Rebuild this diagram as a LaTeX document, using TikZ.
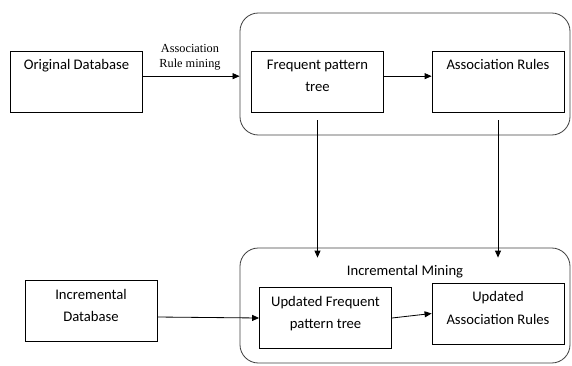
\documentclass[tikz,border=0pt]{standalone}
\usepackage{fontspec}
\setmainfont{Carlito}
\newfontfamily\labelfont{Liberation Serif}
\usepackage{tikz}
\usetikzlibrary{arrows.meta}
\usetikzlibrary{calc}
\tikzstyle{blk} = [draw=black, fill=white, line width=0.7pt,
rectangle, inner sep=0pt]
\tikzstyle{group} = [draw=black!75, line width=0.7pt, rectangle,
rounded corners=0.55cm, minimum width=9.9cm]
\tikzstyle{arr} = [draw=black, line width=0.7pt, -{Triangle[length=2.1mm,width=1.8mm]}]
\newcommand{\blktext}[1]{%
\begin{minipage}[t][1.83cm][t]{3.96cm}
\centering\vspace*{2.6mm}\fontsize{12.5}{19}\selectfont #1
\end{minipage}}

\begin{document}
\begin{tikzpicture}[x=0.03cm, y=-0.03cm]
        \useasboundingbox (0,0) rectangle (572,365);
        % the two rounded groups
        \node [group, minimum height=3.66cm] (upper) at (405,74) {};
        \node [group, minimum height=3.45cm] (lower) at (405,305.5) {};
        \node [anchor=base, font=\fontsize{12.5}{15}\selectfont] (inctitle) at (405,275) {Incremental Mining};
        % blocks
        \node [blk] (origdb) at (76.5,81.5) {\blktext{Original Database}};
        \node [blk] (fptree) at (317.5,81.5) {\blktext{Frequent pattern\\tree}};
        \node [blk] (assoc) at (498,81.5) {\blktext{Association Rules}};
        \node [blk] (incdb) at (91,311) {\blktext{Incremental\\Database}};
        \node [blk] (updfp) at (325.5,318) {\blktext{Updated Frequent\\pattern tree}};
        \node [blk] (updassoc) at (498,313.5) {\blktext{Updated\\Association Rules}};
        \node [anchor=south, inner sep=0pt, align=center,
            font=\labelfont\fontsize{10.5}{12.8}\selectfont] (minelabel) at (190,70) {Association\\Rule mining};
        % connectors
        \draw [arr] ([yshift=0.16cm]origdb.east) -- ([yshift=0.16cm]origdb.east -| upper.west);
        \draw [arr] ([yshift=0.16cm]fptree.east) -- ([yshift=0.16cm]assoc.west);
        \draw [arr] ([yshift=-2.4mm]fptree.south) -- ($(fptree.south |- lower.north)+(0,-3mm)$);
        \draw [arr] ([yshift=-2.4mm]assoc.south) -- ($(assoc.south |- lower.north)+(0,-3mm)$);
        \draw [arr] ([yshift=-0.18cm]incdb.east) -- (updfp.west);
        \draw [arr] (updfp.east) -- (updassoc.west);
    \end{tikzpicture}
\end{document}
